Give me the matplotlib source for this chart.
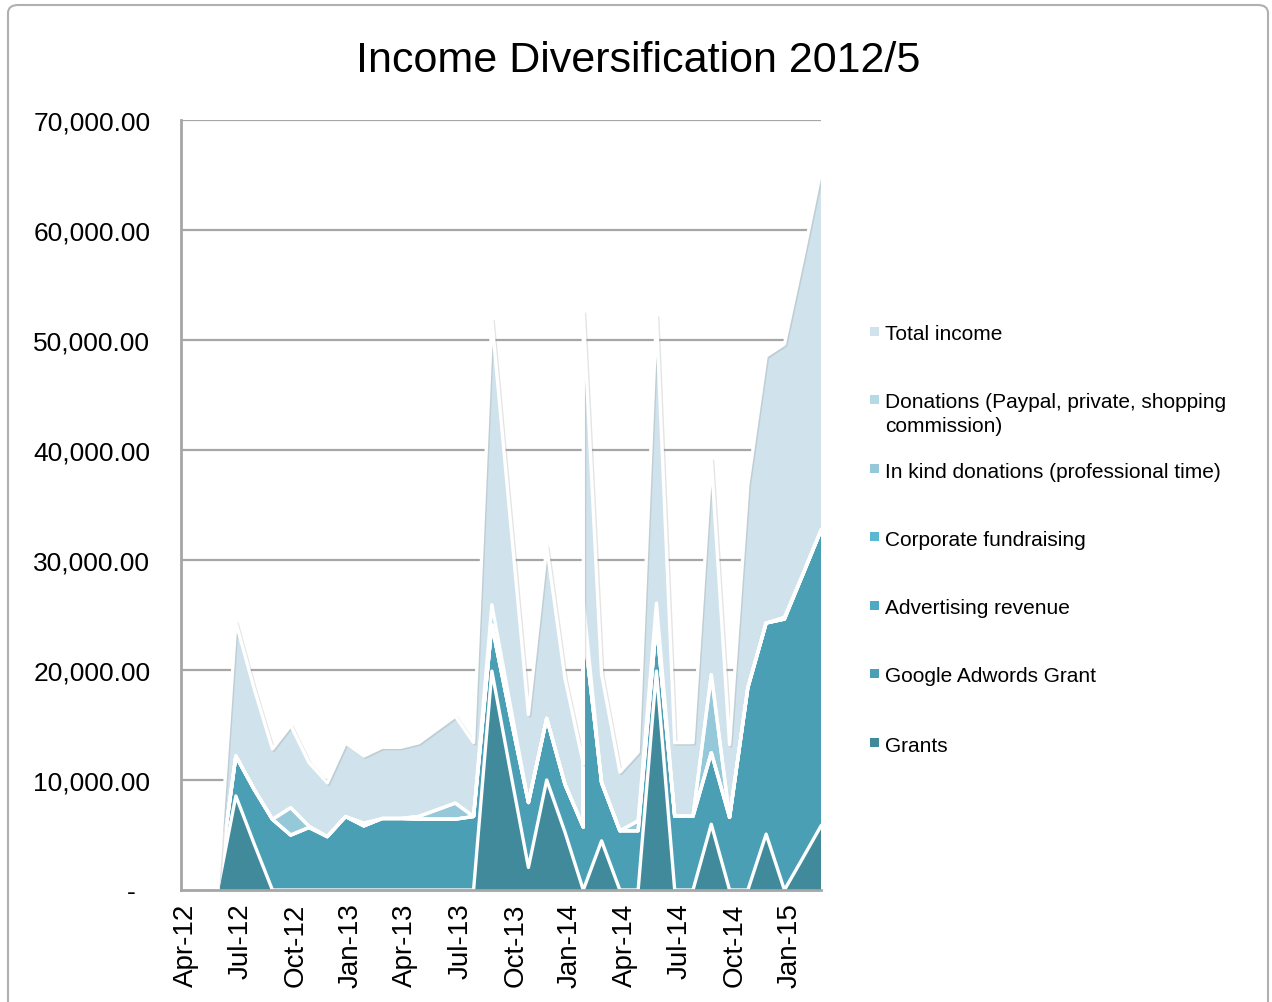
import matplotlib
matplotlib.use("Agg")
import matplotlib.pyplot as plt
import matplotlib.patheffects as pe
import matplotlib.transforms as mtransforms
from matplotlib.patches import FancyBboxPatch, Rectangle
import numpy as np

plt.rcParams["font.family"] = ["Liberation Sans", "DejaVu Sans"]

# monthly data points (Feb-14 appears twice in the source sheet)
months = [
    "2012-04", "2012-05", "2012-06", "2012-07", "2012-08", "2012-09",
    "2012-10", "2012-11", "2012-12", "2013-01", "2013-02", "2013-03",
    "2013-04", "2013-05", "2013-06", "2013-07", "2013-08", "2013-09",
    "2013-10", "2013-11", "2013-12", "2014-01", "2014-02", "2014-02",
    "2014-03", "2014-04", "2014-05", "2014-06", "2014-07", "2014-08",
    "2014-09", "2014-10", "2014-11", "2014-12", "2015-01", "2015-02", "2015-03",
]

grants = [0, 0, 0, 8550, 4200, 0,
          0, 0, 0, 0, 0, 0,
          0, 0, 0, 0, 0, 19900,
          10900, 2050, 10000, 5250, 0, 0,
          4470, 0, 0, 19900, 0, 0,
          5980, 0, 0, 5080, 0, 2900, 5830]
adwords = [0, 0, 0, 3630, 4950, 6420,
           4990, 5680, 4850, 6680, 5830, 6500,
           6500, 6440, 6440, 6440, 6680, 4210,
           5000, 5900, 5600, 4350, 5720, 24300,
           5290, 5380, 5380, 4370, 6700, 6700,
           6500, 6600, 18400, 19190, 24630, 25760, 26870]
advertising = [0] * 37
corporate = [0] * 37
in_kind = [0, 0, 0, 0, 0, 0,
           2490, 110, 0, 0, 0, 0,
           0, 250, 850, 1460, 0, 0,
           0, 0, 0, 0, 0, 0,
           0, 0, 900, 0, 0, 0,
           7100, 0, 0, 0, 0, 0, 0]
donations = [0, 0, 0, 0, 0, 0,
             0, 0, 0, 0, 260, 0,
             0, 0, 0, 0, 0, 1820,
             1000, 0, 0, 0, 0, 1950,
             0, 0, 0, 1810, 0, 0,
             0, 0, 0, 0, 180, 0, 0]
total_income = [0, 0, 0, 12150, 9150, 6400,
                7480, 5790, 4880, 6690, 6090, 6470,
                6470, 6690, 7300, 7900, 6725, 25900,
                16900, 8000, 15600, 9600, 5750, 26250,
                9850, 5330, 6250, 26070, 6700, 6700,
                19550, 6620, 18420, 24270, 24810, 28700, 32700]

tick_labels = ["Apr-12", "Jul-12", "Oct-12", "Jan-13", "Apr-13", "Jul-13",
               "Oct-13", "Jan-14", "Apr-14", "Jul-14", "Oct-14", "Jan-15"]

series = [
    ("Grants", grants, "#408a9c"),
    ("Google Adwords Grant", adwords, "#4a9fb4"),
    ("Advertising revenue", advertising, "#4eaac4"),
    ("Corporate fundraising", corporate, "#5ab9d2"),
    ("In kind donations (professional time)", in_kind, "#95c9d9"),
    ("Donations (Paypal, private, shopping\ncommission)", donations, "#b7d9e6"),
    ("Total income", total_income, "#d0e3ec"),
]


def month_index(s):
    y, m = s.split("-")
    return (int(y) - 2012) * 12 + int(m) - 4


x = np.array([month_index(m) for m in months], dtype=float)

fig = plt.figure(figsize=(12.72, 10.03), dpi=100)
ax = fig.add_axes([181 / 1272, 1 - 891 / 1003, 640 / 1272, 770 / 1003])

# outer chart border
fig.patches.append(FancyBboxPatch((8 / 1272, -0.02), 1260 / 1272, 1.02 - 6 / 1003,
                                  boxstyle="round,pad=0,rounding_size=0.008",
                                  transform=fig.transFigure, fill=False,
                                  edgecolor="#b0b0b0", linewidth=1.5))

ax.set_axisbelow(True)
ax.yaxis.grid(True, color="#a6a6a6", linewidth=1.6)
ax.xaxis.grid(False)

bottom = np.zeros(len(x))
for name, vals, col in series:
    top = bottom + np.array(vals, dtype=float)
    ax.fill_between(x, bottom, top, facecolor=col, edgecolor="none", zorder=2)
    bottom = top

# white outlines on top of every layer
bottom = np.zeros(len(x))
for i, (name, vals, col) in enumerate(series):
    top = bottom + np.array(vals, dtype=float)
    effects = [pe.SimpleLineShadow(offset=(1.0, -1.0), shadow_color="#909090", alpha=0.25), pe.Normal()]
    ax.plot(x, top, color="white", linewidth=2.4, zorder=3,
            path_effects=effects if i == len(series) - 1 else None)
    bottom = top

ax.set_xlim(0, 35)
ax.set_ylim(0, 70000)
ax.set_yticks(np.arange(0, 70001, 10000))
ax.set_yticklabels(["-  "] + [f"{v:,.2f}" for v in range(10000, 70001, 10000)])
ax.set_xticks(np.arange(0, 34, 3))
ax.set_xticklabels(tick_labels, rotation=90)
ax.tick_params(axis="y", length=0, pad=22, labelsize=19)
ax.tick_params(axis="x", length=0, pad=9, labelsize=20)

# nudge rotated month labels to sit centred on their tick
shift = mtransforms.ScaledTranslation(5 / 100, 0, fig.dpi_scale_trans)
for lab in ax.get_xticklabels():
    lab.set_transform(lab.get_transform() + shift)

for side in ["top", "right"]:
    ax.spines[side].set_visible(False)
for side in ["left", "bottom"]:
    ax.spines[side].set_color("#a6a6a6")
    ax.spines[side].set_linewidth(2)
    ax.spines[side].set_zorder(4)

fig.text(638 / 1272, 1 - 61 / 1003, "Income Diversification 2012/5",
         ha="center", va="center", fontsize=31)

# legend, top to bottom
legend_y = [333, 401, 470, 538, 607, 675, 744]
for (name, vals, col), ly in zip(series[::-1], legend_y):
    fig.patches.append(Rectangle((870 / 1272, 1 - (ly + 4) / 1003), 9 / 1272, 9 / 1003,
                                 transform=fig.transFigure, facecolor=col, edgecolor="none"))
    lines = name.split("\n")
    for k, line in enumerate(lines):
        fig.text(885 / 1272, 1 - (ly + k * 24) / 1003, line,
                 ha="left", va="center_baseline", fontsize=15)

fig.savefig("out.png", dpi=100)
